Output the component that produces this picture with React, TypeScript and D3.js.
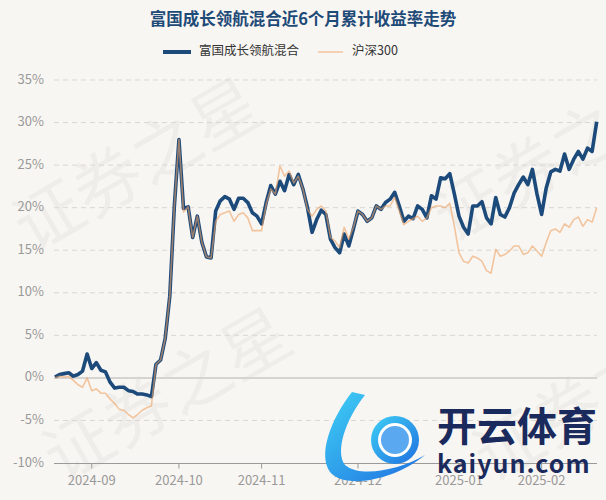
import React from "react";
import * as d3 from "d3";

const fundName = "富国成长领航混合";
const indexName = "沪深300";
const title = "富国成长领航混合近6个月累计收益率走势";

const fundValues: number[] = [
  0.1, 0.4, 0.5, 0.6, 0.2, 0.4, 0.8, 2.8, 1.1, 1.8,
  0.9, 0.7, -0.5, -1.2, -1.1, -1.1, -1.5, -1.6, -1.9, -1.9,
  -2.0, -2.2, 1.6, 2.1, 4.6, 9.6, 20.2, 28.0, 19.9, 20.1,
  16.5, 19.0, 15.9, 14.2, 14.1, 19.6, 20.8, 21.3, 21.0, 19.8,
  21.1, 21.1, 20.6, 19.4, 19.0, 18.1, 20.6, 22.6, 21.6, 23.1,
  22.0, 23.9, 22.7, 23.9, 22.2, 20.0, 17.1, 18.6, 19.7, 19.2,
  16.3, 15.3, 14.7, 16.9, 15.5, 17.5, 19.6, 19.2, 18.4, 18.8,
  20.2, 19.8, 20.6, 21.0, 21.8, 20.2, 18.4, 19.0, 18.7, 20.2,
  19.8, 18.8, 21.4, 21.0, 23.5, 23.4, 24.0, 21.6, 19.0, 17.7,
  16.9, 20.2, 20.2, 20.7, 18.8, 18.1, 21.2, 19.2, 18.9, 20.0,
  21.7, 22.7, 23.6, 22.7, 24.5, 21.6, 19.2, 22.3, 24.2, 24.5,
  24.3, 26.3, 24.5, 25.7, 26.6, 25.7, 27.0, 26.6, 30.1,
];

const indexValues: number[] = [
  0.0, 0.2, 0.1, 0.2, -0.3, -0.8, -1.1, 0.0, -1.5, -1.3,
  -1.8, -1.8, -2.5, -3.0, -3.7, -3.8, -4.3, -4.7, -4.3, -3.8,
  -3.5, -3.3, 1.6, 2.1, 4.6, 9.6, 20.2, 28.0, 19.5, 20.1,
  16.5, 19.0, 15.9, 14.2, 14.1, 18.4, 19.2, 19.4, 19.6, 18.4,
  19.2, 19.4, 18.8, 17.3, 17.3, 17.3, 20.4, 22.2, 21.6, 24.9,
  23.7, 24.3, 22.9, 23.7, 22.2, 19.8, 19.0, 19.8, 20.2, 19.6,
  16.5, 16.1, 15.3, 17.7, 16.3, 17.7, 19.6, 19.2, 18.4, 18.8,
  20.2, 19.8, 20.2, 20.2, 21.2, 19.6, 18.0, 18.4, 18.7, 19.0,
  18.4, 18.8, 20.0, 20.2, 20.2, 20.0, 20.5, 17.8, 14.7, 13.7,
  13.5, 14.3, 14.1, 13.7, 12.6, 12.3, 15.1, 14.3, 14.5, 14.9,
  15.5, 15.5, 14.5, 14.7, 15.5, 14.9, 14.3, 15.9, 17.3, 17.5,
  17.1, 18.1, 17.7, 18.6, 18.9, 17.8, 18.6, 18.3, 20.0,
];

const xTickIndex: number[] = [8, 27, 45, 66, 88, 106];
const xTickLabels: string[] = ["2024-09", "2024-10", "2024-11", "2024-12", "2025-01", "2025-02"];
const yTicks: number[] = [-10, -5, 0, 5, 10, 15, 20, 25, 30, 35];

const W = 606;
const H = 500;
const BG = "#f8f6f2";
const NAVY = "#1c4a7b";
const ORANGE = "#eea466";
const FONT = "'Noto Sans CJK SC', 'Noto Sans', sans-serif";

export default function App() {
  const x = d3.scaleLinear().domain([0, fundValues.length - 1]).range([55, 596.7]);
  const y = d3.scaleLinear().domain([-10, 35]).range([463, 80]);
  const line = d3
    .line<number>()
    .x((_, i) => x(i))
    .y((d) => y(d))
    .curve(d3.curveLinear);

  const watermarks = [
    { cx: 140, cy: 170 },
    { cx: 170, cy: 400 },
    { cx: 560, cy: 160 },
    { cx: 600, cy: 400 },
  ];

  return (
    <div style={{ position: "fixed", left: 0, top: 0, width: W, height: H }}>
      <svg width={W} height={H} style={{ display: "block", background: BG }}>
        <rect x={0} y={0} width={W} height={H} fill={BG} />
        {/* watermark */}
        {watermarks.map((w, i) => (
          <text
            key={"wm" + i}
            x={w.cx}
            y={w.cy}
            transform={`rotate(-30 ${w.cx} ${w.cy})`}
            textAnchor="middle"
            dominantBaseline="middle"
            fontFamily={FONT}
            fontSize={68}
            fill="#000"
            fillOpacity={0.035}
          >
            证券之星
          </text>
        ))}

        {/* title */}
        <text
          x={W / 2}
          y={21}
          textAnchor="middle"
          dominantBaseline="middle"
          fontFamily={FONT}
          fontWeight={700}
          fontSize={16.5}
          fill="#1e4a78"
        >
          {title}
        </text>

        {/* legend */}
        <line x1={163} x2={191} y1={52} y2={52} stroke={NAVY} strokeWidth={4} />
        <text x={199} y={52} dominantBaseline="middle" fontFamily={FONT} fontSize={12.5} fill="#333">
          {fundName}
        </text>
        <line x1={318} x2={343} y1={52} y2={52} stroke={ORANGE} strokeOpacity={0.6} strokeWidth={1.5} />
        <text x={352} y={52} dominantBaseline="middle" fontFamily={FONT} fontSize={12.5} fill="#333">
          {indexName}
        </text>

        {/* grid */}
        {yTicks.map((t) =>
          t === -10 ? null : t === 0 ? (
            <line key={"g" + t} x1={54} x2={597} y1={y(t)} y2={y(t)} stroke="#d6d4d0" strokeWidth={2} />
          ) : (
            <line
              key={"g" + t}
              x1={54}
              x2={597}
              y1={y(t)}
              y2={y(t)}
              stroke="#d9d7d3"
              strokeWidth={1}
              strokeDasharray="5,4"
            />
          )
        )}

        {/* y labels */}
        {yTicks.map((t) => (
          <text
            key={"yl" + t}
            x={44}
            y={y(t)}
            textAnchor="end"
            dominantBaseline="middle"
            fontFamily={FONT}
            fontSize={13}
            fill="#999"
          >
            {t + "%"}
          </text>
        ))}

        {/* x axis */}
        <line x1={54} x2={597} y1={463.5} y2={463.5} stroke="#9a9a9a" strokeWidth={1} />
        {xTickIndex.map((ti, i) => (
          <g key={"xt" + i}>
            <line x1={x(ti)} x2={x(ti)} y1={463.5} y2={468.5} stroke="#9a9a9a" strokeWidth={1} />
            <text
              x={x(ti)}
              y={481}
              textAnchor="middle"
              dominantBaseline="middle"
              fontFamily={FONT}
              fontSize={13}
              fill="#999"
            >
              {xTickLabels[i]}
            </text>
          </g>
        ))}

        {/* series */}
        <path d={line(fundValues) || ""} fill="none" stroke={NAVY} strokeWidth={3.6} strokeLinejoin="round" />
        <path
          d={line(indexValues) || ""}
          fill="none"
          stroke={ORANGE}
          strokeOpacity={0.6}
          strokeWidth={1.6}
          strokeLinejoin="round"
        />

        {/* overlay logo */}
        <g>
          <defs>
            <linearGradient id="kg" x1="0" y1="0" x2="1" y2="1">
              <stop offset="0%" stopColor="#3fd0f5" />
              <stop offset="100%" stopColor="#1f6fe0" />
            </linearGradient>
          </defs>
          <path
            d="M352,392 C330,420 318,455 330,472 C345,490 395,480 425,455 C400,470 360,478 345,465 C335,452 345,420 365,395 Z"
            fill="url(#kg)"
          />
          <circle cx={395} cy={440} r={24} fill="url(#kg)" />
          <circle cx={395} cy={440} r={17} fill="#ffffff" />
          <circle cx={395} cy={440} r={14} fill="#5aa8f0" />
          <text x={437} y={430} dominantBaseline="middle" fontFamily={FONT} fontWeight={700} fontSize={40} fill="#1b2a5c">
            开云体育
          </text>
          <text x={437} y={466} dominantBaseline="middle" fontFamily={FONT} fontWeight={700} fontSize={25} fill="#1b2a5c" letterSpacing={1}>
            kaiyun.com
          </text>
        </g>
      </svg>
    </div>
  );
}
